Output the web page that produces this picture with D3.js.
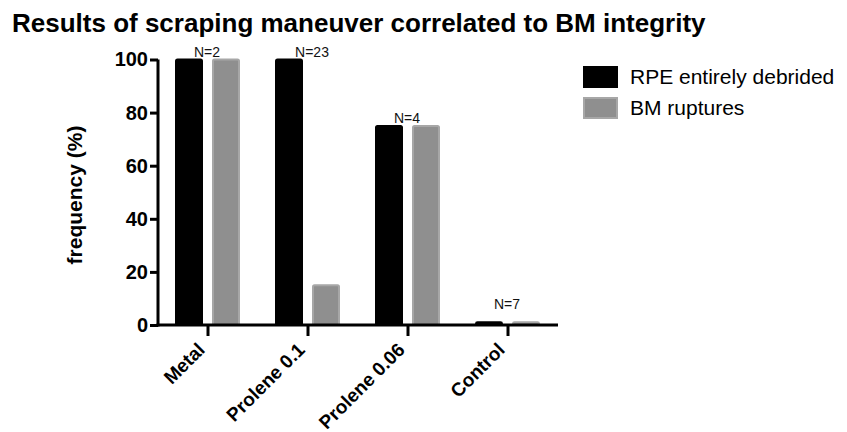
<!DOCTYPE html>
<html>
<head>
<meta charset="utf-8">
<script src="https://cdn.jsdelivr.net/npm/d3@7"></script>
<style>
  body { margin: 0; background: #fff; }
  text { font-family: "Liberation Sans", Arial, sans-serif; }
</style>
</head>
<body>
<svg width="847" height="432"></svg>
<script>
// Data
var categories = ["Metal", "Prolene 0.1", "Prolene 0.06", "Control"];
var seriesNames = ["RPE entirely debrided", "BM ruptures"];
var rpeDebrided = [100, 100, 75, 1];
var bmRuptures = [100, 15, 75, 1];
var nLabels = ["N=2", "N=23", "N=4", "N=7"];
var yTicks = [0, 20, 40, 60, 80, 100];

var svg = d3.select("svg");

var margin = {left: 158, right: 289, top: 59.5, bottom: 107};
var plotW = 847 - margin.left - margin.right,
    plotH = 432 - margin.top - margin.bottom;

var g = svg.append("g")
    .attr("transform", "translate(" + margin.left + "," + margin.top + ")");

// scales
var x = d3.scaleBand().domain(categories).range([0, plotW]).padding(0);
var y = d3.scaleLinear().domain([0, 100]).range([plotH, 0]);

var colors = [
    {fill: "#000000", stroke: "#000000"},
    {fill: "#8f8f8f", stroke: "#a7a7a7"}
];
var barW = 26;
var offsets = [-32, 5];

var series = [rpeDebrided, bmRuptures];
series.forEach(function (vals, s) {
    g.append("g")
        .selectAll("rect")
        .data(vals)
        .enter()
        .append("rect")
        .attr("x", function (d, i) { return x(categories[i]) + x.bandwidth() / 2 + offsets[s]; })
        .attr("y", function (d) { return y(d); })
        .attr("width", barW)
        .attr("height", function (d) { return y(0) - y(d); })
        .attr("fill", colors[s].fill)
        .attr("stroke", colors[s].stroke)
        .attr("stroke-width", 2)
        .attr("rx", 1.5);
});

// N labels
g.append("g")
    .selectAll("text")
    .data(nLabels)
    .enter()
    .append("text")
    .attr("x", function (d, i) { return x(categories[i]) + x.bandwidth() / 2 + (i === 1 ? 4 : -1); })
    .attr("y", function (d, i) {
        var top = y(Math.max(rpeDebrided[i], bmRuptures[i]));
        return Math.min(top - 3, y(0) - 16);
    })
    .attr("text-anchor", "middle")
    .attr("font-size", 14)
    .attr("fill", "#111")
    .text(function (d) { return d; });

// y axis
var yAxis = g.append("g")
    .call(d3.axisLeft(y).tickValues(yTicks).tickSize(8).tickPadding(2));
yAxis.select(".domain").attr("stroke-width", 3).attr("d", "M0," + (plotH + 1.5) + "V0");
yAxis.selectAll(".tick line").attr("stroke-width", 3);
yAxis.selectAll(".tick text")
    .attr("font-size", 20)
    .attr("font-weight", "bold")
    .attr("fill", "#000");

// x axis
var xAxis = g.append("g")
    .attr("transform", "translate(0," + plotH + ")")
    .call(d3.axisBottom(x).tickSize(11).tickSizeOuter(0));
xAxis.select(".domain").attr("stroke-width", 3).attr("d", "M-1.5,0H" + plotW);
xAxis.selectAll(".tick line").attr("stroke-width", 3);
xAxis.selectAll(".tick text")
    .attr("font-size", 19)
    .attr("font-weight", "bold")
    .attr("fill", "#000")
    .attr("text-anchor", "end")
    .attr("dy", null)
    .attr("transform", "translate(-2,26) rotate(-45)")
    .attr("y", 0)
    .attr("x", 0);

// y label
svg.append("text")
    .attr("transform", "translate(82,195) rotate(-90)")
    .attr("text-anchor", "middle")
    .attr("font-size", 21)
    .attr("font-weight", "bold")
    .text("frequency (%)");

// title
svg.append("text")
    .attr("x", 12)
    .attr("y", 32)
    .attr("font-size", 26)
    .attr("font-weight", "bold")
    .text("Results of scraping maneuver correlated to BM integrity");

// legend
var legend = svg.append("g").attr("transform", "translate(584,67)");
seriesNames.forEach(function (name, i) {
    legend.append("rect")
        .attr("x", 0)
        .attr("y", i * 31)
        .attr("width", 33)
        .attr("height", 20)
        .attr("fill", colors[i].fill)
        .attr("stroke", colors[i].stroke)
        .attr("stroke-width", 2);
    legend.append("text")
        .attr("x", 46)
        .attr("y", i * 31 + 17)
        .attr("font-size", 21)
        .attr("fill", "#000")
        .text(name);
});
</script>
</body>
</html>
